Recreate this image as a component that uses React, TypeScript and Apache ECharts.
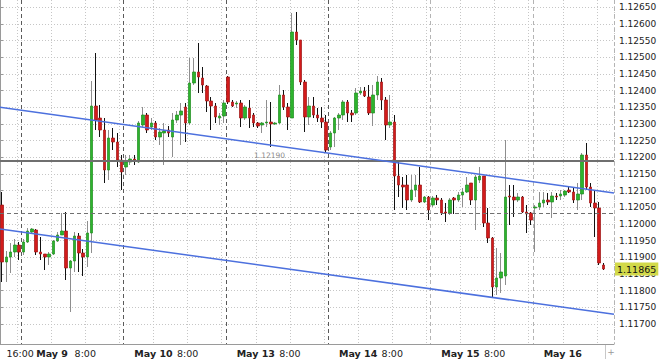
import { useEffect, useRef } from 'react';
import * as echarts from 'echarts';

// ---- data (prices in points, i.e. price * 100000) ----
const SCALE = 100000;
const sessionDays = ['May 8', 'May 9', 'May 10', 'May 13', 'May 14', 'May 15', 'May 16'];
const firstHourOfFirstDay = 19;
const slotCount = 144;

const opens = [
  112057, 111886, 111901, 111916, 111937, 111916, 111946, 111976, 111982, 111916,
  111910, 111901, 111910, 111949, 111967, 111979, 111868, 111889, 111964, 111913,
  111901, 111973, 112354, 112318, 112282, 112162, 112258, 112246, 112192, 112171,
  112186, 112195, 112186, 112297, 112327, 112291, 112303, 112261, 112273, 112282,
  112261, 112312, 112327, 112351, 112303, 112423, 112456, 112438, 112414, 112369,
  112354, 112318, 112324, 112441, 112366, 112360, 112363, 112318, 112348, 112327,
  112303, 112297, 112303, 112306, 112300, 112303, 112387, 112351, 112318, 112576,
  112552, 112426, 112321, 112354, 112327, 112318, 112306, 112231, 112273, 112318,
  112327, 112366, 112333, 112333, 112393, 112399, 112381, 112333, 112387, 112426,
  112372, 112297, 112306, 112144, 112117, 112117, 112072, 112102, 112117, 112066,
  112081, 112057, 112078, 112072, 112036, 112033, 112078, 112072, 112087, 112096,
  112123, 112072, 112132, 112144, 112003, 111958, 111811, 111838, 111844, 112084,
  112081, 112072, 112081, 112036, 112033, 112048, 112051, 112063, 112072, 112066,
  112084, 112084, 112087, 112102, 112096, 112072, 112090, 112207, 112111, 112063,
  112048, 111877,
];
const closes = [
  111886, 111901, 111916, 111937, 111916, 111946, 111979, 111985, 111916, 111910,
  111901, 111910, 111949, 111967, 111979, 111868, 111889, 111964, 111913, 111901,
  111973, 112354, 112312, 112282, 112162, 112258, 112246, 112192, 112156, 112186,
  112195, 112189, 112303, 112327, 112282, 112303, 112261, 112276, 112279, 112273,
  112312, 112327, 112339, 112303, 112423, 112456, 112441, 112417, 112369, 112354,
  112321, 112324, 112363, 112366, 112354, 112363, 112318, 112351, 112318, 112303,
  112294, 112303, 112306, 112300, 112303, 112387, 112351, 112321, 112576, 112552,
  112426, 112321, 112354, 112327, 112318, 112306, 112222, 112273, 112318, 112327,
  112366, 112333, 112327, 112393, 112399, 112384, 112333, 112387, 112426, 112372,
  112297, 112306, 112144, 112117, 112111, 112072, 112102, 112117, 112066, 112081,
  112042, 112078, 112072, 112033, 112033, 112072, 112072, 112087, 112096, 112117,
  112072, 112141, 112144, 112003, 111958, 111811, 111838, 111856, 112081, 112081,
  112072, 112081, 112036, 112030, 112012, 112051, 112063, 112072, 112066, 112084,
  112081, 112090, 112099, 112096, 112072, 112090, 112207, 112111, 112063, 112048,
  111883, 111865,
];
const highs = [
  112096, 111919, 111943, 111955, 111946, 111955, 111988, 111988, 111985, 111961,
  111910, 111916, 111952, 111976, 112033, 112036, 111892, 111976, 111973, 111925,
  112009, 112429, 112513, 112357, 112318, 112282, 112288, 112273, 112207, 112207,
  112207, 112207, 112309, 112351, 112333, 112318, 112309, 112288, 112303, 112294,
  112333, 112339, 112363, 112363, 112498, 112498, 112543, 112471, 112417, 112381,
  112363, 112333, 112372, 112444, 112372, 112369, 112372, 112357, 112372, 112333,
  112306, 112306, 112372, 112366, 112306, 112417, 112402, 112363, 112633, 112636,
  112552, 112432, 112381, 112381, 112348, 112351, 112327, 112279, 112321, 112333,
  112372, 112372, 112342, 112408, 112411, 112411, 112417, 112417, 112444, 112438,
  112381, 112387, 112327, 112192, 112141, 112147, 112147, 112147, 112171, 112084,
  112084, 112084, 112087, 112078, 112063, 112078, 112081, 112096, 112108, 112141,
  112123, 112147, 112171, 112144, 112048, 111961, 111928, 111913, 112252, 112117,
  112117, 112093, 112084, 112057, 112036, 112057, 112096, 112096, 112093, 112096,
  112093, 112102, 112102, 112111, 112111, 112123, 112213, 112243, 112123, 112102,
  112066, 111883,
];
const lows = [
  111826, 111826, 111853, 111901, 111892, 111907, 111943, 111970, 111907, 111892,
  111862, 111877, 111907, 111946, 111967, 111832, 111736, 111856, 111856, 111844,
  111871, 111913, 112282, 112261, 112123, 112132, 112222, 112171, 112102, 112147,
  112177, 112177, 112183, 112291, 112273, 112282, 112252, 112237, 112177, 112261,
  112201, 112303, 112237, 112246, 112297, 112417, 112393, 112393, 112336, 112282,
  112303, 112297, 112303, 112360, 112351, 112348, 112291, 112312, 112288, 112291,
  112288, 112273, 112291, 112231, 112297, 112300, 112342, 112282, 112318, 112537,
  112417, 112276, 112297, 112318, 112306, 112288, 112213, 112222, 112231, 112282,
  112312, 112306, 112306, 112327, 112387, 112381, 112327, 112294, 112372, 112342,
  112252, 112288, 112042, 112081, 112048, 112042, 112066, 112081, 112063, 112063,
  112012, 112051, 112057, 112027, 112006, 112027, 112030, 112066, 112051, 112093,
  112057, 111982, 112123, 111991, 111943, 111781, 111787, 111793, 111817, 111997,
  112021, 112066, 112033, 111973, 111997, 111916, 112042, 112051, 112057, 112018,
  112072, 112072, 112081, 112093, 112063, 112042, 112072, 112102, 112051, 111961,
  111877, 111862,
];

// y axis tick labels
const yTickValues = [
  1.117, 1.1175, 1.118, 1.1185, 1.119, 1.1195, 1.12, 1.1205, 1.121, 1.1215,
  1.122, 1.1225, 1.123, 1.1235, 1.124, 1.1245, 1.125, 1.1255, 1.126, 1.1265,
];
const yMin = 1.1164;
const yMax = 1.12672;

// x axis tick labels (category index -> text)
const tickLabelIndex = [1, 8, 17, 31, 41, 55, 65, 79, 89, 103, 113, 127];
const tickLabelText = ['16:00', 'May 9', '8:00', 'May 10', '8:00', 'May 13', '8:00', 'May 14', '8:00', 'May 15', '8:00', 'May 16'];

// day separators (first hour of each session)
const daySeparatorIndex = [5, 29, 53, 77];
const daySeparatorLightIndex = [101, 125];

// channel lines (slot position, value in points)
const channelSlots = [0, 144];
const upperChannel = [112350, 112093];
const lowerChannel = [111985, 111729];

// horizontal levels
const levelSolid = 1.1219;
const levelDashed = 1.12032;

const FONT = 'DejaVu Sans';

function buildCategories(): string[] {
  const cats: string[] = [];
  sessionDays.forEach((d, di) => {
    const start = di === 0 ? firstHourOfFirstDay : 0;
    for (let h = start; h < 24 && cats.length < slotCount; h++) {
      cats.push(`${d} ${String(h).padStart(2, '0')}:00`);
    }
  });
  return cats;
}

export default function App() {
  const ref = useRef<HTMLDivElement>(null);

  useEffect(() => {
    if (!ref.current) return;
    const chart = echarts.init(ref.current, undefined, { renderer: 'svg' });
    const categories = buildCategories();

    const wickData = opens.map((o, i) => [o / SCALE, closes[i] / SCALE, lows[i] / SCALE, highs[i] / SCALE]);
    const bodyData = opens.map((o, i) => {
      const c = closes[i];
      return [o / SCALE, c / SCALE, Math.min(o, c) / SCALE, Math.max(o, c) / SCALE];
    });
    const lastClose = closes[closes.length - 1] / SCALE;

    const hiddenCat = (indices: number[], color: string) => ({
      type: 'category' as const,
      data: categories,
      boundaryGap: true,
      axisLine: { show: false },
      axisTick: { show: false },
      axisLabel: { show: false },
      splitLine: {
        show: true,
        interval: (idx: number) => indices.includes(idx),
        lineStyle: { color, type: [4, 3], width: 1 },
      },
    });

    chart.setOption({
      animation: false,
      backgroundColor: '#ffffff',
      grid: { left: 0, right: 46, top: 0, bottom: 15, containLabel: false, outerBoundsMode: 'none' },
      xAxis: [
        {
          type: 'category',
          data: categories,
          boundaryGap: true,
          position: 'bottom',
          axisLine: { show: true, lineStyle: { color: '#9a9a9a', width: 1 } },
          axisTick: { show: false },
          axisLabel: {
            interval: (idx: number) => tickLabelIndex.includes(idx),
            formatter: (_v: string, idx: number) => {
              const k = tickLabelIndex.indexOf(idx);
              if (k < 0) return '';
              const t = tickLabelText[k];
              return t.startsWith('May') ? `{b|${t}}` : `{n|${t}}`;
            },
            align: 'left',
            margin: 4,
            rich: {
              b: { fontFamily: FONT, fontSize: 9.5, fontWeight: 'bold', color: '#222' },
              n: { fontFamily: FONT, fontSize: 9.5, color: '#222' },
            },
          },
          splitLine: {
            show: true,
            interval: (idx: number) => idx % 8 === 4,
            lineStyle: { color: '#c6c6c6', type: [1, 2], width: 1 },
          },
        },
        { type: 'value', min: 0, max: slotCount, show: false },
        hiddenCat(daySeparatorIndex, '#5a5a5a'),
        hiddenCat(daySeparatorLightIndex, '#b4b4b4'),
      ],
      yAxis: {
        type: 'value',
        position: 'right',
        min: yMin,
        max: yMax,
        splitNumber: 20,
        minInterval: 0.0005,
        maxInterval: 0.0005,
        axisLine: { show: true, lineStyle: { color: '#9a9a9a', width: 1 } },
        axisTick: { show: true, length: 3, customValues: yTickValues, lineStyle: { color: '#9a9a9a' } },
        axisLabel: {
          customValues: yTickValues,
          formatter: (v: number) => v.toFixed(5),
          margin: 5,
          fontFamily: FONT,
          fontSize: 9,
          color: '#222',
        },
        splitLine: { show: true, lineStyle: { color: '#c6c6c6', type: [1, 2], width: 1 } },
      },
      series: [
        {
          name: 'wicks',
          type: 'candlestick',
          xAxisIndex: 0,
          yAxisIndex: 0,
          barWidth: 1,
          data: wickData,
          itemStyle: {
            color: '#8e8e8e',
            color0: '#111111',
            borderColor: '#8e8e8e',
            borderColor0: '#111111',
            borderWidth: 1,
          },
          silent: true,
        },
        {
          name: 'bodies',
          type: 'candlestick',
          xAxisIndex: 0,
          yAxisIndex: 0,
          barWidth: 3,
          data: bodyData,
          itemStyle: {
            color: '#2db42d',
            color0: '#d31b1b',
            borderColor: '#1d8b1d',
            borderColor0: '#9c1212',
            borderWidth: 0.7,
          },
          silent: true,
        },
        {
          name: 'levels',
          type: 'line',
          xAxisIndex: 1,
          yAxisIndex: 0,
          data: [],
          symbol: 'none',
          silent: true,
          z: 4,
          markLine: {
            symbol: 'none',
            silent: true,
            animation: false,
            precision: 5,
            label: { show: false },
            data: [
              {
                yAxis: levelSolid,
                lineStyle: { color: '#6f6f6f', width: 2, type: 'solid' },
                label: {
                  show: true,
                  position: 'insideStartTop',
                  distance: [254, 1],
                  formatter: () => levelSolid.toFixed(5),
                  color: '#8a8a8a',
                  fontFamily: FONT,
                  fontSize: 7.5,
                },
              },
              {
                yAxis: levelDashed,
                lineStyle: { color: '#707070', width: 1, type: [4, 3] },
                label: { show: false },
              },
              {
                yAxis: lastClose,
                lineStyle: { color: 'rgba(0,0,0,0)', width: 0 },
                label: {
                  show: true,
                  position: 'end',
                  distance: 1,
                  formatter: () => lastClose.toFixed(5),
                  backgroundColor: '#d2d94a',
                  color: '#111',
                  padding: [2, 2, 1, 2],
                  fontFamily: FONT,
                  fontSize: 9.5,
                },
              },
            ],
          },
        },
        {
          name: 'upper channel',
          type: 'line',
          xAxisIndex: 1,
          yAxisIndex: 0,
          data: channelSlots.map((s, i) => [s, upperChannel[i] / SCALE]),
          symbol: 'none',
          lineStyle: { color: '#4c70de', width: 1.5 },
          silent: true,
          z: 5,
        },
        {
          name: 'lower channel',
          type: 'line',
          xAxisIndex: 1,
          yAxisIndex: 0,
          data: channelSlots.map((s, i) => [s, lowerChannel[i] / SCALE]),
          symbol: 'none',
          lineStyle: { color: '#4c70de', width: 1.5 },
          silent: true,
          z: 5,
        },
      ],
      graphic: [
        { type: 'line', shape: { x1: 605.5, y1: 345, x2: 605.5, y2: 359 }, style: { stroke: '#c8c8c8', lineWidth: 1 } },
        { type: 'text', x: 611, y: 352, style: { text: '+', fill: '#999', fontSize: 9, fontFamily: FONT, align: 'center', verticalAlign: 'middle' } },
      ],
    });

    return () => chart.dispose();
  }, []);

  return (
    <div
      ref={ref}
      style={{ position: 'fixed', left: 0, top: 0, width: 660, height: 359, background: '#fff' }}
    />
  );
}
